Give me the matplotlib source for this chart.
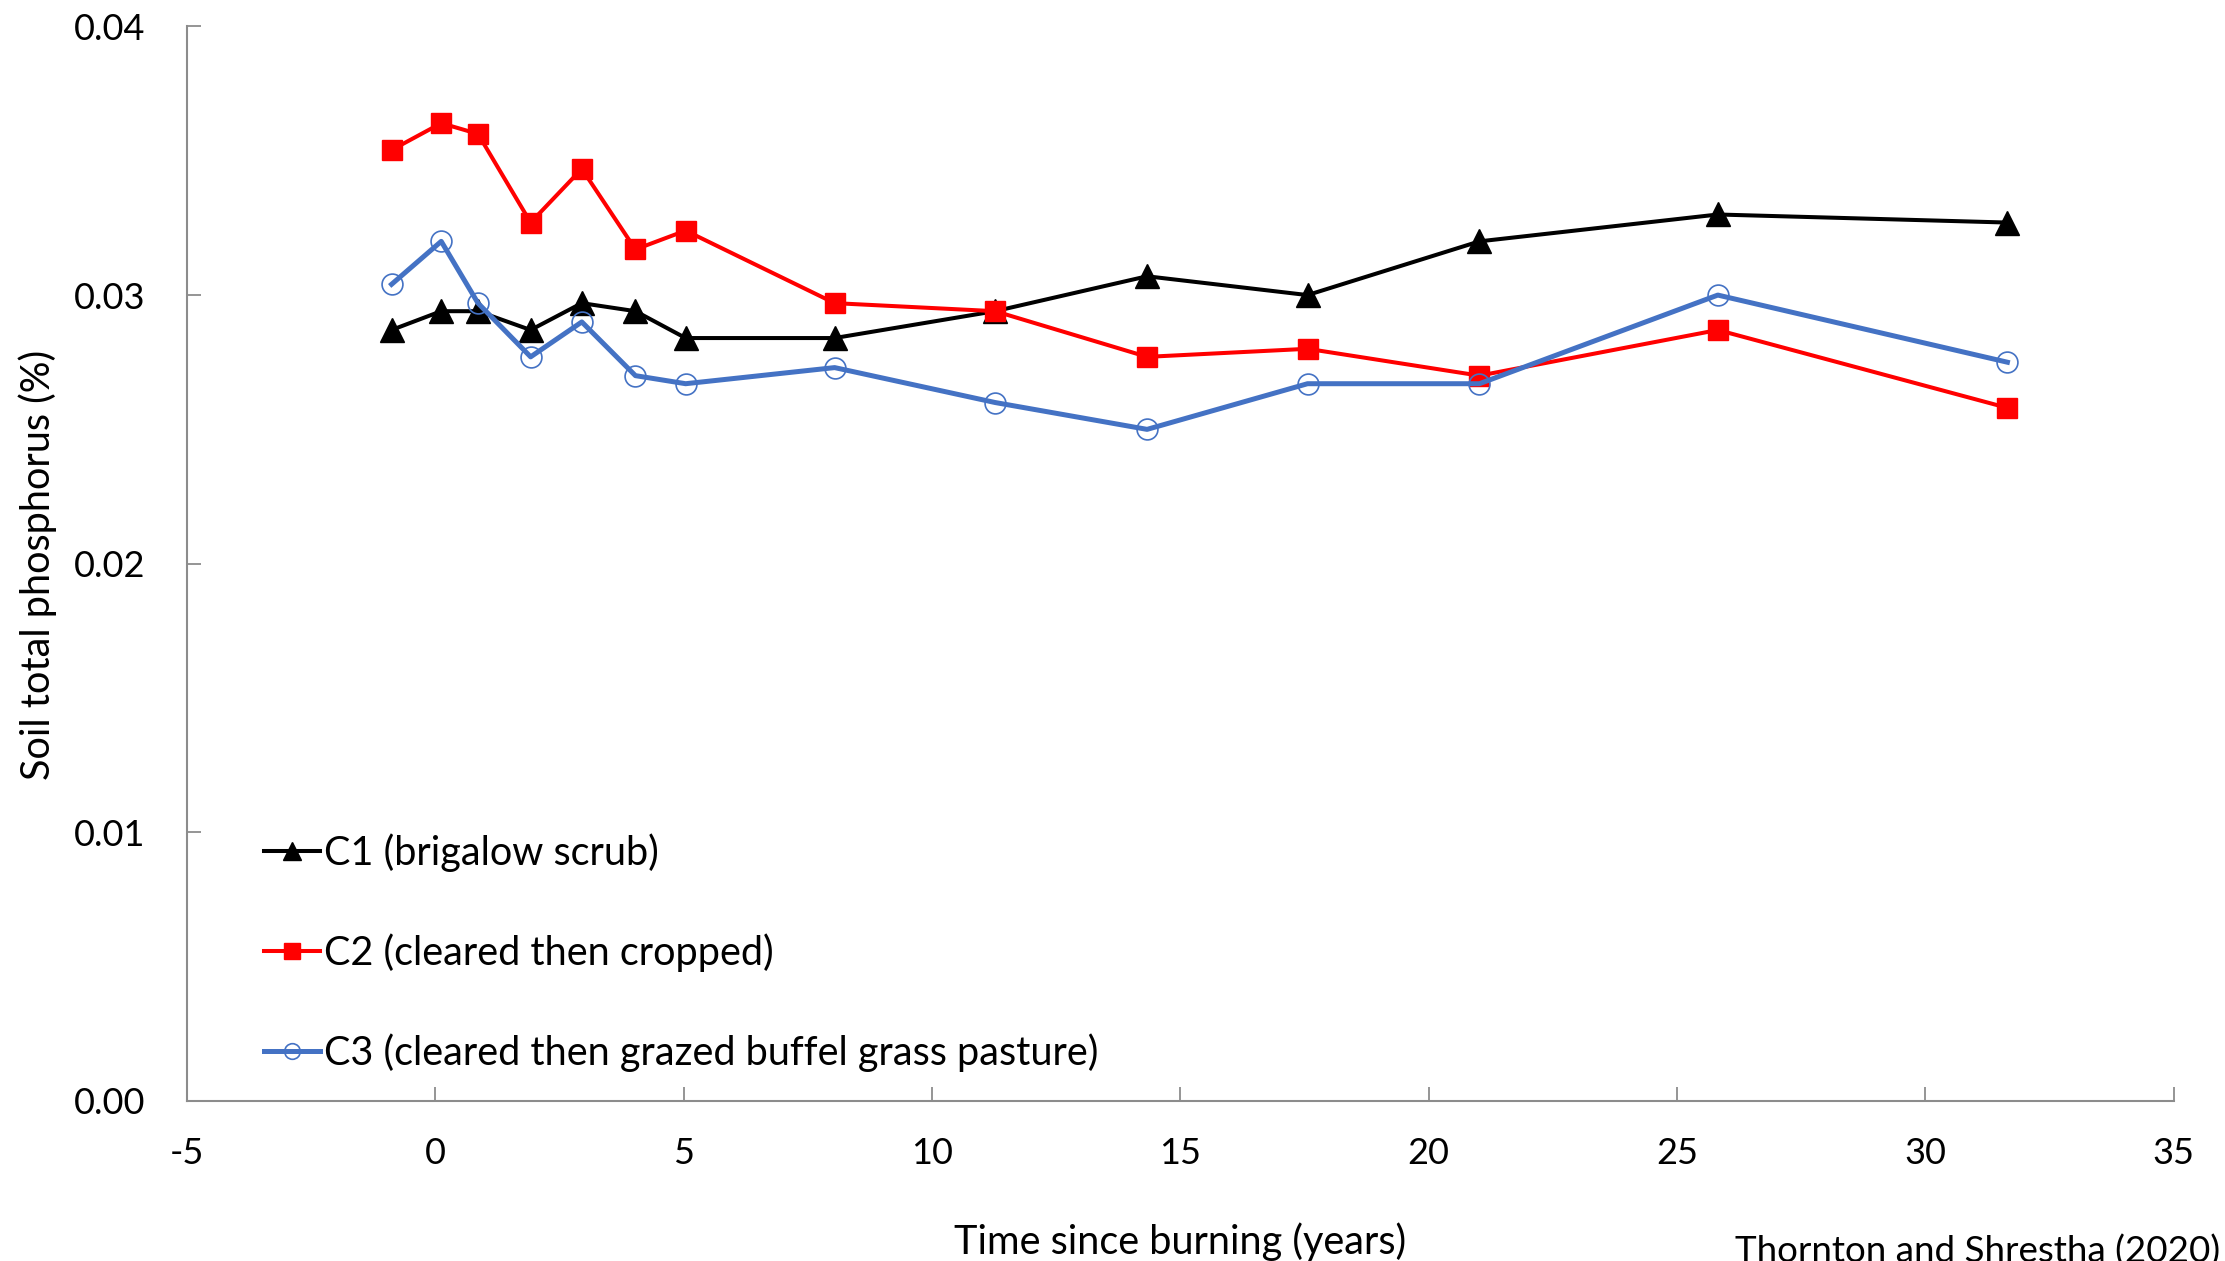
"""Soil total phosphorus over time since burning (brigalow catchments)."""
import matplotlib
matplotlib.use("Agg")
import matplotlib.pyplot as plt

# ── data ────────────────────────────────────────────────────────────────
years = [-0.88, 0.12, 0.86, 1.92, 2.95, 4.03, 5.04, 8.04, 11.27, 14.33, 17.56, 21.02, 25.82, 31.65]

c1_scrub = [0.0287, 0.0294, 0.0294, 0.0287, 0.0297, 0.0294, 0.0284, 0.0284,
            0.0294, 0.0307, 0.0300, 0.0320, 0.0330, 0.0327]
c2_cropped = [0.0354, 0.0364, 0.0360, 0.0327, 0.0347, 0.0317, 0.0324, 0.0297,
              0.0294, 0.0277, 0.0280, 0.0270, 0.0287, 0.0258]
c3_pasture = [0.0304, 0.0320, 0.0297, 0.0277, 0.0290, 0.0270, 0.0267, 0.0273,
              0.0260, 0.0250, 0.0267, 0.0267, 0.0300, 0.0275]

labels = [
    "C1 (brigalow scrub)",
    "C2 (cleared then cropped)",
    "C3 (cleared then grazed buffel grass pasture)",
]

x_ticks = [-5, 0, 5, 10, 15, 20, 25, 30, 35]
y_ticks = [0.0, 0.01, 0.02, 0.03, 0.04]

# ── style ────────────────────────────────────────────────────────────────
plt.rcParams["font.family"] = ["Lato", "DejaVu Sans"]
FS = 28.5      # legend / axis titles
FS_TICK = 26
AXIS_GREY = "#8c8c8c"

fig = plt.figure(figsize=(22.25, 12.61), dpi=100)
ax = fig.add_axes([0.084, 0.127, 0.893, 0.852])

ax.plot(years, c1_scrub, color="black", lw=2.9, marker="^", ms=17,
        mfc="black", mec="black", label=labels[0], zorder=3)
ax.plot(years, c2_cropped, color="#ff0000", lw=2.9, marker="s", ms=15,
        mfc="#ff0000", mec="#ff0000", label=labels[1], zorder=4)
ax.plot(years, c3_pasture, color="#4472c4", lw=3.6, marker="o", ms=15,
        mfc="none", mec="#4472c4", mew=1.2, label=labels[2], zorder=5)

ax.set_xlim(-5, 35)
ax.set_ylim(0, 0.04)
ax.set_xticks(x_ticks)
ax.set_yticks(y_ticks)
ax.set_xticklabels([str(v) for v in x_ticks])
ax.set_yticklabels([f"{v:.2f}" for v in y_ticks])

for side in ("top", "right"):
    ax.spines[side].set_visible(False)
for side in ("left", "bottom"):
    ax.spines[side].set_color(AXIS_GREY)
    ax.spines[side].set_linewidth(1.5)

ax.tick_params(axis="both", direction="in", length=10, width=1.3,
               color=AXIS_GREY, labelsize=FS_TICK)
ax.tick_params(axis="x", pad=26)
ax.tick_params(axis="y", pad=30)

ax.set_xlabel("Time since burning (years)", fontsize=FS, labelpad=38)
fig.text(0.017, 0.552, "Soil total phosphorus (%)", fontsize=FS,
         rotation=90, ha="center", va="center")

ax.legend(loc="center left", bbox_to_anchor=(0.039, 0.138), frameon=False,
          fontsize=FS, handlelength=1.4, handletextpad=0.1, labelspacing=1.55,
          borderpad=0, borderaxespad=0, markerscale=0.75)

# source note sits at the very bottom-right edge, partly clipped as in the original
fig.text(0.998, 0.021, "Thornton and Shrestha (2020)", fontsize=26.5,
         ha="right", va="top")

fig.savefig("out.png", dpi=100)
